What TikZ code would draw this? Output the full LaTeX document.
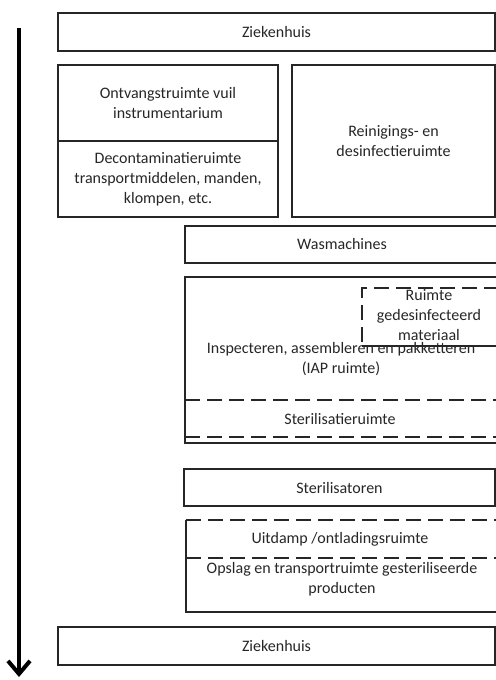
\documentclass[tikz,border=0pt]{standalone}
\usepackage{fontspec}
\setmainfont{Carlito}
\usetikzlibrary{fit,arrows.meta}
\begin{document}
\begin{tikzpicture}[x=0.5pt,y=-0.5pt,
  box/.style={draw=black!85, line width=1pt, inner sep=0pt, outer sep=0pt},
  lbl/.style={inner sep=0pt, align=center, font=\fontsize{8}{10}\selectfont, text=black!85},
  dashline/.style={draw=black!85, line width=1pt, dash pattern=on 7.5pt off 3.5pt},
  solidline/.style={draw=black!85, line width=1pt},
  flow/.style={line width=2pt, -{Straight Barb[length=6.5pt,width=11pt,line width=2pt]}}
]
\useasboundingbox (0,0) rectangle (496,680);
\clip (0,0) rectangle (496,680);

% process direction
\coordinate (flowtop) at (19,28);
\coordinate (flowend) at (19,677);
\draw[flow] (flowtop) -- (flowend);

% dirty side
\node[box, fit={(58,13) (495,51)}] (zh1) {};
\node[lbl] (zh1txt) at (zh1.center) {Ziekenhuis};
\node[box, fit={(58,65) (278,141)}] (ontv) {};
\node[lbl] (ontvtxt) at (ontv.center) {Ontvangstruimte vuil\\instrumentarium};
\node[box, fit={(58,141) (278,217)}] (decon) {};
\node[lbl] (decontxt) at (decon.center) {Decontaminatieruimte\\transportmiddelen, manden,\\klompen, etc.};
\node[box, fit={(292,65) (495,217)}] (rein) {};
\node[lbl] (reintxt) at (rein.center) {Reinigings- en\\desinfectieruimte};
\node[box, fit={(185,226) (499,263)}] (wasm) {};
\node[lbl] (wasmtxt) at (wasm.center) {Wasmachines};

% clean side: IAP area
\node[box, fit={(185,277) (499,443)}] (iap) {};
\node[lbl] (iaptxt) at (341,359) {Inspecteren, assembleren en pakketteren\\(IAP ruimte)};
\draw[dashline] (499,288) -- (362,288) -- (362,346);
\draw[solidline] (362,346) -- (499,346);
\node[lbl] (ruimte) at (429,315) {Ruimte\\gedesinfecteerd\\materiaal};
\draw[dashline] (185,400) -- (499,400);
\draw[dashline] (185,437) -- (499,437);
\node[lbl] (sterr) at (340,419) {Sterilisatieruimte};

% sterilisation and release
\node[box, fit={(184,469) (495,506)}] (stz) {};
\node[lbl] (stztxt) at (stz.center) {Sterilisatoren};
\draw[dashline] (186,520) -- (499,520);
\draw[solidline] (186,520) -- (186,612) -- (499,612);
\draw[dashline] (186,558) -- (499,558);
\node[lbl] (uit) at (340,539) {Uitdamp /ontladingsruimte};
\node[lbl] (opslag) at (342,579) {Opslag en transportruimte gesteriliseerde\\producten};

\node[box, fit={(58,627) (495,665)}] (zh2) {};
\node[lbl] (zh2txt) at (zh2.center) {Ziekenhuis};
\end{tikzpicture}
\end{document}
